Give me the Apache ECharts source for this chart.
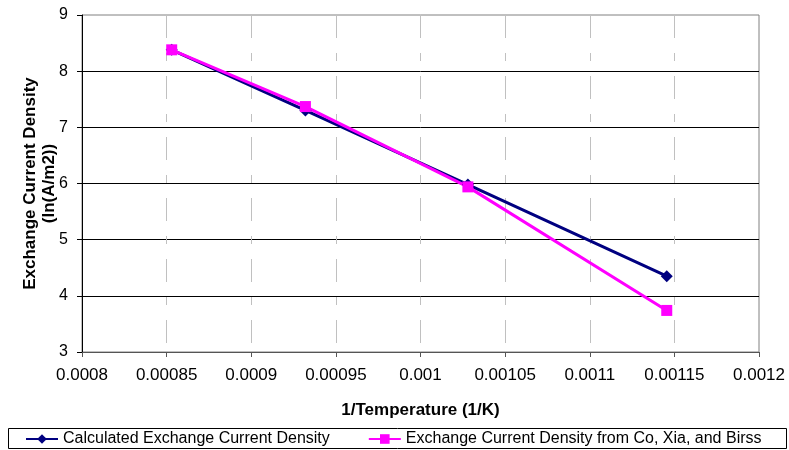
<!DOCTYPE html>
<html>
<head>
<meta charset="utf-8">
<script src="https://cdn.jsdelivr.net/npm/echarts@6/dist/echarts.min.js"></script>
<style>
  html, body { margin: 0; padding: 0; background: #fff; }
  #chart { width: 789px; height: 450px; }
</style>
</head>
<body>
<div id="chart"></div>
<script>
// 1/T values (1/K)
const invTemp = [0.000853, 0.000932, 0.001028, 0.0011455];
// ln(A/m2)
const calculated = [8.38, 7.30, 5.98, 4.35];
const coXiaBirss = [8.38, 7.37, 5.94, 3.74];

const seriesNames = ['Calculated Exchange Current Density', 'Exchange Current Density from Co, Xia, and Birss'];

const font = 'Liberation Sans, Arial, sans-serif';

function pairs(xs, ys) {
  return xs.map((x, i) => [x, ys[i]]);
}

const chart = echarts.init(document.getElementById('chart'));

chart.setOption({
  animation: false,
  backgroundColor: '#fff',
  textStyle: { fontFamily: font },
  grid: {
    left: 82, right: 30, top: 15, bottom: 98,
    show: true, borderColor: '#808080', borderWidth: 1
  },
  legend: {
    left: 25, top: 431,
    itemWidth: 32, itemHeight: 12, itemGap: 38,
    padding: 0,
    textStyle: { fontSize: 16, color: '#000', fontFamily: font },
    data: seriesNames
  },
  graphic: [{
    type: 'rect',
    shape: { x: 8.5, y: 428.5, width: 778, height: 20 },
    style: { fill: 'none', stroke: '#000', lineWidth: 1 },
    silent: true
  }],
  xAxis: {
    type: 'value',
    min: 0.0008, max: 0.0012, interval: 0.00005,
    name: '1/Temperature (1/K)',
    nameLocation: 'middle', nameGap: 50, nameMoveOverlap: false,
    nameTextStyle: { fontSize: 17, fontWeight: 'bold', color: '#000', fontFamily: font },
    axisLine: { show: true, onZero: false, lineStyle: { color: '#555', width: 1 } },
    axisTick: { show: true, length: 5, lineStyle: { color: '#555' } },
    axisLabel: {
      fontSize: 17, color: '#000', margin: 15, fontFamily: font,
      formatter: v => String(parseFloat(v.toPrecision(6)))
    },
    splitLine: {
      show: true, showMinLine: false, showMaxLine: false,
      lineStyle: { color: '#c0c0c0', width: 1, type: [23, 15, 8, 15] }
    }
  },
  yAxis: {
    type: 'value',
    min: 3, max: 9, interval: 1,
    name: 'Exchange Current Density\n(ln(A/m2))',
    nameLocation: 'middle', nameGap: 23, nameRotate: 90, nameMoveOverlap: false,
    nameTextStyle: { fontSize: 17, fontWeight: 'bold', color: '#000', lineHeight: 19, fontFamily: font },
    axisLine: { show: true, onZero: false, lineStyle: { color: '#000', width: 1 } },
    axisTick: { show: true, length: 5, lineStyle: { color: '#000' } },
    axisLabel: { fontSize: 16, color: '#000', margin: 14, fontFamily: font },
    splitLine: {
      show: true, showMinLine: false, showMaxLine: false,
      lineStyle: { color: '#000', width: 1 }
    }
  },
  series: [
    {
      name: seriesNames[0],
      type: 'line',
      data: pairs(invTemp, calculated),
      symbol: 'diamond', symbolSize: 12,
      lineStyle: { color: '#000080', width: 3 },
      itemStyle: { color: '#000080' }
    },
    {
      name: seriesNames[1],
      type: 'line',
      data: pairs(invTemp, coXiaBirss),
      symbol: 'rect', symbolSize: 11,
      lineStyle: { color: '#ff00ff', width: 3 },
      itemStyle: { color: '#ff00ff' }
    }
  ]
});
</script>
</body>
</html>
